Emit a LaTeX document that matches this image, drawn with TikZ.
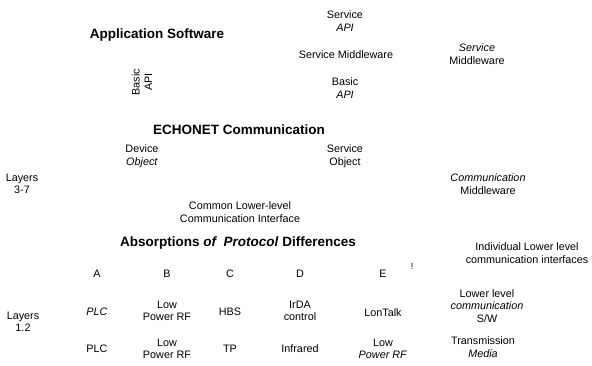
\documentclass[tikz,border=0pt]{standalone}
\usepackage{fontspec}
\setmainfont{Liberation Sans}
\usepackage{tikz}

\begin{document}
\begin{tikzpicture}[x=1pt,y=-1pt,
    lbl/.style={font=\fontsize{10.8}{12.5}\selectfont,align=center,inner sep=0pt},
    ttl/.style={font=\fontsize{13.5}{15}\selectfont\bfseries,inner sep=0pt}]
    \useasboundingbox (0,0) rectangle (592,365);

    % upper part: software and middleware
    \node[lbl] (srvapi) at (345,21) {Service\\\textit{API}};
    \node[ttl] (appsw) at (157,35) {Application Software};
    \node[lbl] (srvmw) at (346,55) {Service Middleware};
    \node[lbl] (srvmwr) at (477,54) {\textit{Service}\\Middleware};
    \node[lbl,rotate=90] (basicl) at (142,82) {Basic\\API};
    \node[lbl] (basicm) at (345,88) {Basic\\\textit{API}};

    % ECHONET layer
    \node[ttl] (echo) at (239,130) {ECHONET Communication};
    \node[lbl] (devobj) at (142,156) {Device\\\textit{Object}};
    \node[lbl] (srvobj) at (345,156) {Service\\Object};
    \node[lbl] (lay37) at (22,184) {Layers\\3-7};
    \node[lbl] (commw) at (488,184) {\textit{Communication}\\Middleware};
    \node[lbl] (common) at (240,212) {Common Lower-level\\Communication Interface};

    % lower part
    \node[ttl] (absorb) at (238,243) {Absorptions \textit{of\ \ Protocol} Differences};
    \node[lbl] (indiv) at (527,253) {Individual Lower level\\communication interfaces};
    \node[lbl,font=\fontsize{9}{10}\selectfont] (tick) at (412,266) {!};

    \foreach \nm/\x in {A/97,B/167,C/230,D/300,E/383}
        \node[lbl] (col\nm) at (\x,274) {\nm};

    \node[lbl] (lay12) at (23,322) {Layers\\1.2};
    \node[lbl] (swA) at (97,312) {\textit{PLC}};
    \node[lbl] (swB) at (167,311) {Low\\Power RF};
    \node[lbl] (swC) at (230,312) {HBS};
    \node[lbl] (swD) at (300,311) {IrDA\\control};
    \node[lbl] (swE) at (383,313) {LonTalk};
    \node[lbl] (lowsw) at (487,306) {Lower level\\\textit{communication}\\S/W};

    \node[lbl] (mdA) at (97,349) {PLC};
    \node[lbl] (mdB) at (167,349) {Low\\Power RF};
    \node[lbl] (mdC) at (230,349) {TP};
    \node[lbl] (mdD) at (300,349) {Infrared};
    \node[lbl] (mdE) at (383,349) {Low\\\textit{Power RF}};
    \node[lbl] (media) at (483,347) {Transmission\\\textit{Media}};
\end{tikzpicture}
\end{document}
